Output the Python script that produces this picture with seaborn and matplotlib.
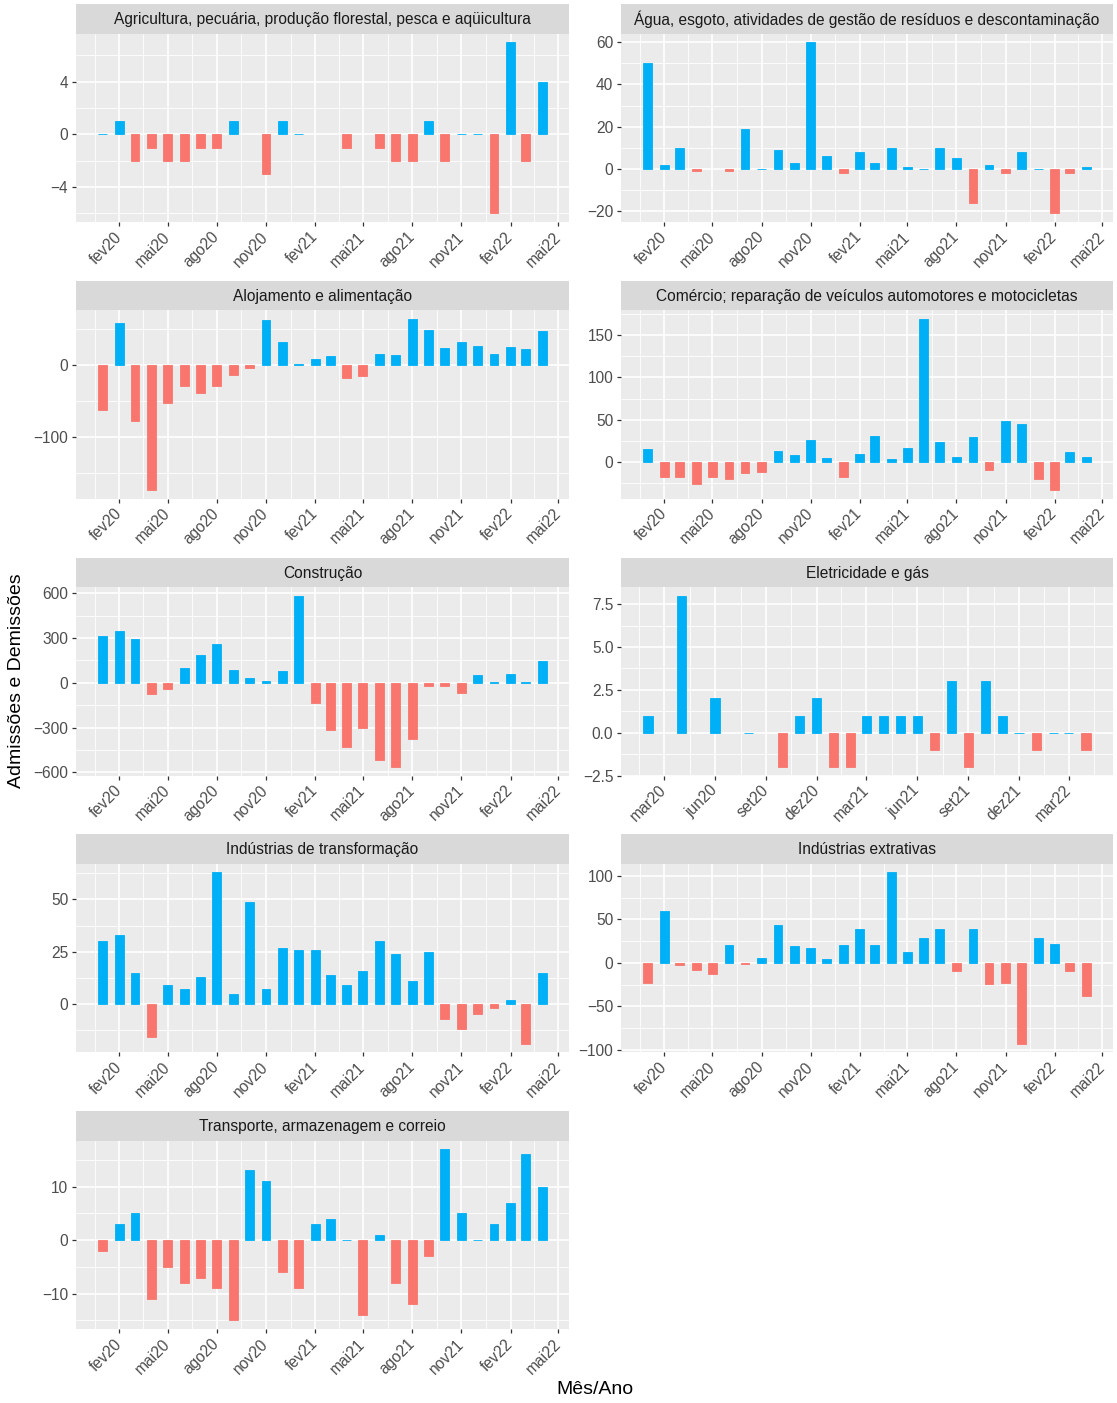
import numpy as np
import pandas as pd
import matplotlib
matplotlib.use('Agg')
import matplotlib.pyplot as plt
import matplotlib.dates as mdates
import seaborn as sns

# %% dados: saldo mensal por setor (jan20 a abr22), nan = mes sem registro
nan = np.nan
meses = pd.date_range('2020-01-01', '2022-04-01', freq='MS')

setores = [
    'Agricultura, pecuária, produção florestal, pesca e aqüicultura',
    'Água, esgoto, atividades de gestão de resíduos e descontaminação',
    'Alojamento e alimentação',
    'Comércio; reparação de veículos automotores e motocicletas',
    'Construção',
    'Eletricidade e gás',
    'Indústrias de transformação',
    'Indústrias extrativas',
    'Transporte, armazenagem e correio',
]

agricultura = [0, 1, -2, -1, -2, -2, -1, -1, 1, nan, -3, 1,
               0, nan, nan, -1, nan, -1, -2, -2, 1, -2, 0, 0,
               -6, 7, -2, 4]
agua = [50, 2, 10, -1, nan, -1, 19, 0, 9, 3, 60, 6,
        -2, 8, 3, 10, 1, 0, 10, 5, -16, 2, -2, 8,
        0, -21, -2, 1]
alojamento = [-62, 58, -78, -174, -53, -29, -39, -29, -14, -4, 62, 32,
              1, 8, 12, -18, -15, 15, 14, 64, 49, 24, 32, 26,
              15, 25, 22, 47]
comercio = [16, -18, -17, -26, -18, -20, -13, -11, 13, 8, 26, 5,
            -18, 10, 31, 4, 17, 169, 24, 6, 30, -9, 48, 45,
            -20, -33, 12, 6]
construcao = [315, 349, 295, -74, -40, 101, 188, 262, 87, 34, 13, 80,
              584, -134, -315, -430, -302, -517, -564, -376, -20, -20, -67, 54,
              7, 60, 7, 148]
eletricidade = [nan, 1, nan, 8, nan, 2, nan, 0, nan, -2, 1, 2,
                -2, -2, 1, 1, 1, 1, -1, 3, -2, 3, 1, 0,
                -1, 0, 0, -1]
transformacao = [30, 33, 15, -16, 9, 7, 13, 63, 5, 49, 7, 27,
                 26, 26, 14, 9, 16, 30, 24, 11, 25, -7, -12, -5,
                 -2, 2, -19, 15]
extrativas = [-23, 59, -3, -8, -13, 20, -1, 6, 43, 19, 17, 4,
              21, 39, 20, 104, 12, 28, 39, -10, 39, -24, -23, -93,
              28, 22, -10, -38]
transporte = [-2, 3, 5, -11, -5, -8, -7, -9, -15, 13, 11, -6,
              -9, 3, 4, 0, -14, 1, -8, -12, -3, 17, 5, 0,
              3, 7, 16, 10]

valores = [agricultura, agua, alojamento, comercio, construcao,
           eletricidade, transformacao, extrativas, transporte]

# marcas do eixo y de cada painel
yticks = [[-4, 0, 4], [-20, 0, 20, 40, 60], [-100, 0], [0, 50, 100, 150],
          [-600, -300, 0, 300, 600], [-2.5, 0, 2.5, 5, 7.5], [0, 25, 50],
          [-100, -50, 0, 50, 100], [-10, 0, 10]]

# marcas do eixo x (trimestrais)
xticks_padrao = ['2020-02', '2020-05', '2020-08', '2020-11', '2021-02', '2021-05',
                 '2021-08', '2021-11', '2022-02', '2022-05']
xticks_eletr = ['2020-03', '2020-06', '2020-09', '2020-12', '2021-03', '2021-06',
                '2021-09', '2021-12', '2022-03']
nomes_meses = ['jan', 'fev', 'mar', 'abr', 'mai', 'jun', 'jul', 'ago', 'set', 'out', 'nov', 'dez']

cores = {'pos': '#00B0F6', 'neg': '#F8766D'}

# %% estilo parecido com ggplot
sns.set_theme(style='darkgrid', rc={'axes.facecolor': '#EBEBEB', 'grid.color': 'white'})
plt.rcParams['font.family'] = ['Liberation Sans', 'DejaVu Sans']

W, H = 1117, 1403
fig = plt.figure(figsize=(W / 100, H / 100), dpi=100)

colunas = [(76, 569), (621, 1113)]
passo_linha = 276.75
alt_strip = 29.5
alt_painel = 188.5
largura_barra = 16.5  # dias
fs = 11.2


def meios(m):
    m = list(m)
    d0 = m[1] - m[0]
    d1 = m[-1] - m[-2]
    return [m[0] - d0 / 2] + [(a + b) / 2 for a, b in zip(m[:-1], m[1:])] + [m[-1] + d1 / 2]


def fmt(v, decimal):
    s = f'{v:.1f}' if decimal else f'{v:.0f}'
    return s.replace('-', '\u2212')


for i, (nome, vals, yt) in enumerate(zip(setores, valores, yticks)):
    r, c = divmod(i, 2)
    x0, x1 = colunas[c]
    topo = 4 + r * passo_linha

    # strip do titulo
    ax_s = fig.add_axes([x0 / W, 1 - (topo + alt_strip) / H, (x1 - x0) / W, alt_strip / H])
    ax_s.set_facecolor('#D9D9D9')
    ax_s.set_xticks([]); ax_s.set_yticks([])
    ax_s.grid(False)
    for sp in ax_s.spines.values():
        sp.set_visible(False)
    ax_s.text(0.5, 0.47, nome, ha='center', va='center', fontsize=fs, color='#1A1A1A',
              transform=ax_s.transAxes)

    ax = fig.add_axes([x0 / W, 1 - (topo + alt_strip + alt_painel) / H,
                       (x1 - x0) / W, alt_painel / H])

    df = pd.DataFrame({'mes': mdates.date2num(meses), 'valor': vals}).dropna()
    df['sinal'] = np.where(df['valor'] >= 0, 'pos', 'neg')
    menor_passo = np.diff(np.unique(df['mes'])).min()

    sns.barplot(data=df, x='mes', y='valor', hue='sinal', hue_order=['pos', 'neg'],
                palette=cores, native_scale=True, orient='x', dodge=False,
                width=largura_barra / menor_passo, errorbar=None, saturation=1,
                legend=False, ax=ax)
    for p in ax.patches:
        p.set_edgecolor(p.get_facecolor())
        p.set_linewidth(0.6)

    xt = xticks_eletr if nome == 'Eletricidade e gás' else xticks_padrao
    xt_num = mdates.date2num(pd.to_datetime(xt))
    ax.set_xticks(xt_num)
    ax.set_xticklabels([nomes_meses[int(s[5:7]) - 1] + s[2:4] for s in xt],
                       rotation=45, ha='right', va='center', rotation_mode='anchor')
    ax.set_xticks(meios(xt_num), minor=True)

    decimal = any(float(v) != int(v) for v in yt)
    ax.set_yticks(yt)
    ax.set_yticklabels([fmt(v, decimal) for v in yt])
    ax.set_yticks(meios(yt), minor=True)

    # limites com expansao de 5% como no ggplot (depois das marcas)
    xa = df['mes'].min() - largura_barra / 2
    xb = df['mes'].max() + largura_barra / 2
    ax.set_xlim(xa - 0.05 * (xb - xa), xb + 0.05 * (xb - xa))
    ya = min(0, df['valor'].min())
    yb = max(0, df['valor'].max())
    ax.set_ylim(ya - 0.05 * (yb - ya), yb + 0.05 * (yb - ya))

    ax.set_xlabel('')
    ax.set_ylabel('')
    ax.grid(which='major', color='white', linewidth=1.2)
    ax.grid(which='minor', color='white', linewidth=0.6)
    ax.set_axisbelow(True)
    for sp in ax.spines.values():
        sp.set_visible(False)
    ax.tick_params(which='major', length=3, width=0.9, color='#333333',
                   labelcolor='#4D4D4D', labelsize=fs, pad=2.5,
                   bottom=True, left=True)
    ax.tick_params(axis='x', which='major', pad=6)
    ax.tick_params(which='minor', length=0)

fig.text(594.5 / W, 1 - 1390 / H, 'Mês/Ano', ha='center', va='center', fontsize=14, color='black')
fig.text(17 / W, 1 - 681 / H, 'Admissões e Demissões', ha='center', va='center',
         rotation=90, fontsize=14, color='black')

fig.savefig('out.png', dpi=100)
